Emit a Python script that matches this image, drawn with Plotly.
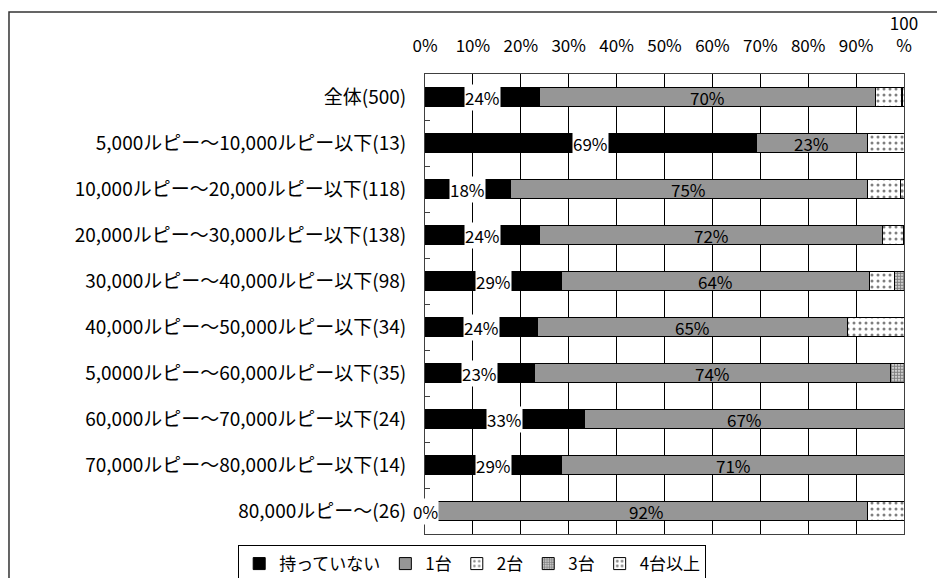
import plotly.graph_objects as go

categories = [
    "全体(500)",
    "5,000ルピー～10,000ルピー以下(13)",
    "10,000ルピー～20,000ルピー以下(118)",
    "20,000ルピー～30,000ルピー以下(138)",
    "30,000ルピー～40,000ルピー以下(98)",
    "40,000ルピー～50,000ルピー以下(34)",
    "5,0000ルピー～60,000ルピー以下(35)",
    "60,000ルピー～70,000ルピー以下(24)",
    "70,000ルピー～80,000ルピー以下(14)",
    "80,000ルピー～(26)",
]
series_names = ["持っていない", "1台", "2台", "3台", "4台以上"]
none_vals = [24.0, 69.2, 17.8, 23.9, 28.6, 23.5, 22.9, 33.3, 28.6, 0.0]
one_vals = [70.0, 23.1, 74.6, 71.7, 64.3, 64.7, 74.3, 66.7, 71.4, 92.3]
two_vals = [5.4, 7.7, 6.8, 4.3, 5.1, 11.8, 0.0, 0.0, 0.0, 7.7]
three_vals = [0.2, 0.0, 0.0, 0.0, 2.0, 0.0, 2.9, 0.0, 0.0, 0.0]
four_vals = [0.4, 0.0, 0.8, 0.0, 0.0, 0.0, 0.0, 0.0, 0.0, 0.0]
tick_vals = [0, 10, 20, 30, 40, 50, 60, 70, 80, 90, 100]
tick_text = ["0%", "10%", "20%", "30%", "40%", "50%", "60%", "70%", "80%", "90%", "100<br>%"]

FONT = "Noto Sans CJK JP"
fig = go.Figure()
line = dict(color="black", width=1)

fig.add_trace(go.Bar(y=categories, x=none_vals, orientation="h", name=series_names[0],
                     marker=dict(color="black", line=line)))
fig.add_trace(go.Bar(y=categories, x=one_vals, orientation="h", name=series_names[1],
                     marker=dict(color="#969696", line=line)))
fig.add_trace(go.Bar(y=categories, x=two_vals, orientation="h", name=series_names[2],
                     marker=dict(color="white", line=line,
                                 pattern=dict(shape=".", fgcolor="black", bgcolor="white",
                                              size=6, solidity=0.2))))
fig.add_trace(go.Bar(y=categories, x=three_vals, orientation="h", name=series_names[3],
                     marker=dict(color="white", line=line,
                                 pattern=dict(shape=".", fgcolor="black", bgcolor="white",
                                              size=3, solidity=0.7))))
fig.add_trace(go.Bar(y=categories, x=four_vals, orientation="h", name=series_names[4],
                     marker=dict(color="white", line=line,
                                 pattern=dict(shape=".", fgcolor="black", bgcolor="white",
                                              size=6, solidity=0.25))))

for c, v0, v1 in zip(categories, none_vals, one_vals):
    fig.add_annotation(x=v0 / 2, y=c, text=f"{round(v0)}%", showarrow=False,
                       bgcolor="white", borderpad=0,
                       font=dict(size=17, color="black", family=FONT))
    fig.add_annotation(x=v0 + v1 / 2, y=c, text=f"{round(v1)}%", showarrow=False,
                       font=dict(size=17, color="black", family=FONT))

# outer frame
fig.add_shape(type="path", xref="paper", yref="paper",
              path="M -0.8685 -0.2 L -0.8685 1.1348 L 1.2 1.1348",
              line=dict(color="#333333", width=1.5))

fig.update_layout(
    barmode="stack",
    bargap=0.58,
    width=937, height=570,
    margin=dict(l=417, r=41, t=66, b=44, autoexpand=False),
    paper_bgcolor="white", plot_bgcolor="white",
    font=dict(family=FONT, size=16, color="black"),
    showlegend=True,
    legend=dict(orientation="h", x=-0.39, y=-0.024, xanchor="left", yanchor="top",
                bordercolor="black", borderwidth=1, font=dict(size=17, family=FONT),
                itemwidth=30, tracegroupgap=0, traceorder="normal"),
    xaxis=dict(side="top", range=[0, 100], tickvals=tick_vals, ticktext=tick_text,
               showgrid=True, gridcolor="black", gridwidth=1, automargin=False,
               showline=True, linecolor="#404040", linewidth=1, mirror=True,
               ticks="", ticklabelstandoff=14, zeroline=False,
               tickfont=dict(size=17, family=FONT)),
    yaxis=dict(autorange="reversed", categoryorder="array", categoryarray=categories,
               showline=True, linecolor="#404040", linewidth=1, mirror=True,
               ticks="inside", ticklen=5, tickcolor="#404040", tickson="boundaries",
               ticklabelstandoff=14, showgrid=False, automargin=False,
               tickfont=dict(size=19, family=FONT)),
)

fig.write_html("out.html")
